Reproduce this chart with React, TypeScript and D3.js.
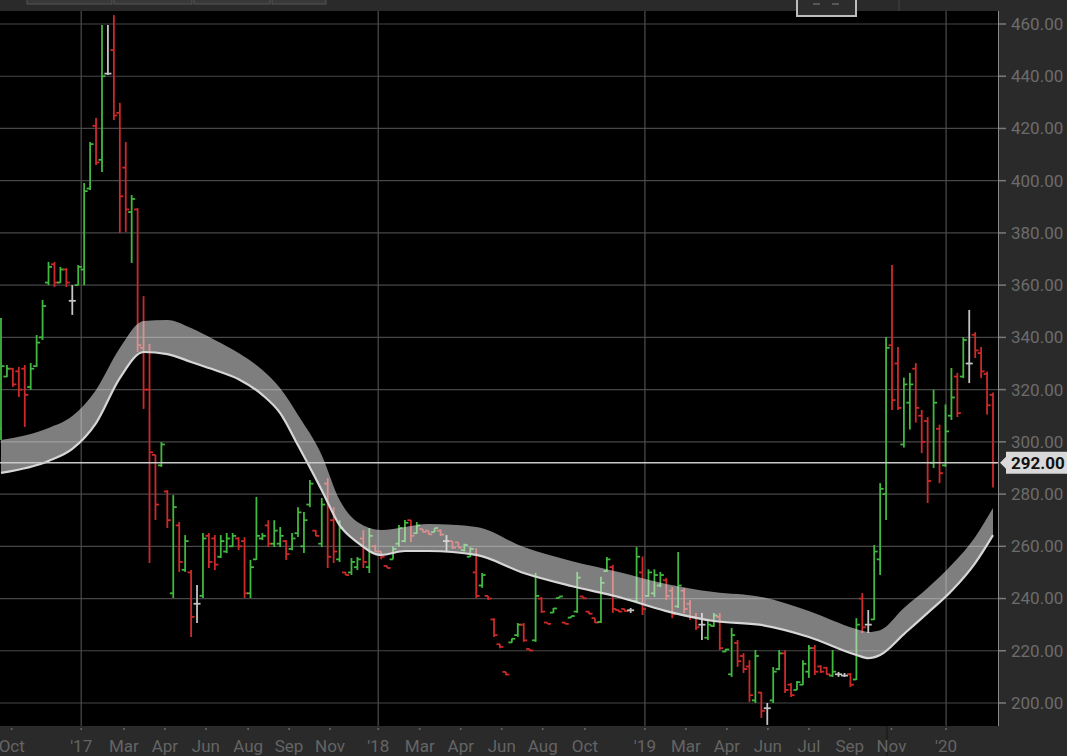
import * as d3 from 'd3';

// weekly OHLC from left to right
const opens = [
  305, 325, 328, 327, 328, 321, 329, 340, 361, 368, 361, 366, 354, 360, 366, 397, 421, 408, 441, 450,
  426, 405, 388, 389, 336, 320, 295, 291, 281, 242, 268, 251, 250, 238, 241, 264, 263, 256, 258, 260,
  263, 262, 242, 255, 263, 268, 261, 261, 262, 259, 265, 260, 276, 266, 261, 284, 270, 255, 250, 250,
  252, 263, 252, 260, 258, 252.5, 255, 261, 262, 270, 265, 266.6, 266, 265.5, 266, 262, 262, 261.5, 258.5, 256,
  250, 245, 241, 232, 222.5, 211.9, 223.2, 226, 230, 220.7, 224, 240, 230.8, 234.6, 240.2, 230.8, 232.7, 235, 240.8, 235,
  232.5, 231, 250.5, 252, 235.6, 236, 235.5, 239, 250, 241, 242, 245, 247, 243, 237, 243, 238, 233, 230, 225,
  229.5, 233, 219.7, 211, 223, 218, 214, 201, 204, 198, 201, 213, 219, 207, 205, 207, 212, 221, 214, 213.5,
  210.5, 211, 210.5, 211, 209, 240, 230, 232, 255, 280, 337, 330, 299, 315, 328, 310, 308, 292, 305, 291,
  310, 325, 325, 330, 341, 334, 326, 318,
];
const highs = [
  347.4, 329.4, 328.3, 328.7, 329.4, 330.2, 340.9, 354.3, 368.9, 368.9, 367, 366.5, 360, 367.7, 399.1, 414.8, 424, 459.6, 459.6, 463.4,
  429.8, 414.8, 394.5, 389.5, 355.8, 337.5, 295, 299.9, 281.5, 279.6, 269.3, 264.3, 250.9, 245.2, 265.1, 265.1, 264.3, 264.3, 265.1, 265.1,
  263.5, 263.5, 254.8, 278.9, 265.1, 270, 270, 267.4, 262.4, 265.1, 275, 273.1, 285.4, 266.2, 278.5, 286.2, 275, 270, 250.2, 255.5,
  255.9, 266.2, 267, 260.5, 258, 252.5, 260, 268.2, 270.1, 270.1, 269.3, 266.6, 266, 267, 266.5, 264.3, 262, 261.5, 261, 259.7,
  259.3, 249.8, 241, 232.5, 222.5, 211.9, 224.7, 230.6, 230.6, 220.7, 249.8, 240.6, 230.8, 236.4, 240.8, 230.8, 233.3, 250.2, 240.8, 235,
  232.5, 248.3, 255.9, 252.9, 235.6, 236, 236.4, 259.7, 256.1, 251.2, 251.2, 250.2, 247.9, 244.4, 257.8, 244, 239.4, 234.5, 234.5, 231.8,
  234.5, 234.5, 220.7, 228.7, 224.1, 219.1, 216.4, 220.3, 204.2, 200, 213.8, 220.3, 220.3, 207.7, 208.4, 216.4, 222.2, 222.2, 214.5, 213.8,
  220.3, 211.9, 211.5, 211.5, 232.5, 242.1, 235.6, 260.5, 284.2, 340.1, 367.7, 336.3, 324.6, 326.4, 330.2, 312.2, 309.5, 319.9, 306.6, 314.3,
  328.3, 326.4, 340.1, 350.5, 342, 336.3, 326.9, 318.9,
];
const lows = [
  300.7, 324.8, 321, 317.2, 305.7, 319.9, 328.7, 339, 360, 359.3, 360.8, 359.3, 348.6, 360, 360, 396.4, 406, 403.3, 440.5, 423.2,
  380, 380.4, 368.5, 334.4, 312.6, 253.6, 270.1, 290.4, 267, 240.2, 250.2, 250.2, 225.3, 230.6, 240.2, 251.7, 250.9, 255.5, 257.4, 259.7,
  258.6, 240.2, 240.2, 254.8, 262.4, 259.7, 259.7, 259.7, 254.8, 258.5, 263.6, 257.4, 275, 263.9, 259.7, 251.7, 253.6, 254, 249, 249,
  250.9, 251.7, 249.8, 257.8, 255, 251.7, 255, 259.7, 261.6, 261.6, 264.8, 265.5, 264.5, 265.5, 264, 257.8, 259, 259.5, 258, 255.9,
  240.2, 244.1, 239.5, 225.3, 221, 210.7, 223.1, 225.3, 223.4, 220, 223.4, 234.5, 230.3, 234.5, 240.2, 230.2, 232.7, 234.5, 240, 234,
  230.6, 230.6, 250.2, 234.5, 234.8, 235, 234.5, 238.3, 233.7, 240.6, 240.6, 244.4, 239.4, 232.5, 236.4, 234.5, 231.8, 228, 224.1, 224.1,
  229.1, 220.3, 219.6, 210, 213.8, 211.5, 200.4, 200, 194.3, 191.6, 200, 212.6, 203.8, 202.3, 205, 206.9, 209.6, 210.7, 211.5, 210.7,
  210, 210, 210, 206.1, 208.8, 226.8, 226.8, 231.8, 249, 270.1, 312.2, 312.2, 297.8, 304.7, 307.4, 295.7, 276.6, 290, 284.2, 290.4,
  308.4, 309.5, 324.4, 322.5, 332.1, 324.4, 310.5, 282.5,
];
const closes = [
  329, 328, 322, 320, 318, 328, 338, 352, 367, 361, 366, 361, 354, 367, 396, 414, 407, 440, 441, 425,
  394, 389, 393, 337, 320, 296, 276, 299, 270, 275, 254, 262, 233, 238, 263, 254, 253, 262, 263, 264,
  260, 242, 252, 264, 264, 261, 266, 264, 257, 263, 273, 270, 284, 264, 276, 256, 258, 267, 249, 254,
  255, 254, 264, 258, 256, 251.7, 259, 267, 269, 264, 268, 265.5, 264.6, 267, 264.5, 262, 259.5, 259.5, 260.5, 259,
  241, 249, 240, 226, 221.5, 210.9, 224.6, 230, 224, 220.1, 241, 235, 230.3, 236.2, 240.8, 230.3, 233.3, 248, 240.1, 234.2,
  230.8, 246, 255, 236, 235, 235.2, 235.5, 256, 236, 250, 249, 249, 241, 234, 245, 236, 233, 229, 230, 230,
  233.5, 221, 220.5, 226, 216, 213, 203, 218, 197, 198, 212, 219, 205, 203, 208, 215, 221, 212, 212, 211,
  212, 211, 210.5, 207, 230, 229, 230, 258, 282, 336, 316, 313, 322, 322, 313, 300, 285, 315, 288, 304,
  317, 311, 339, 330, 335, 327, 314, 292,
];

// moving-average ribbon, sampled at some of the weeks
const bandWeek = [0, 8, 12, 16, 20, 24, 28, 32, 36, 40, 44, 47, 50, 54, 57, 60, 64, 68, 72, 80, 88, 96, 104, 112, 120, 128, 136, 144, 146, 148, 152, 156, 160, 164, 167];
const bandUpper = [300.7, 305.3, 309.9, 319.9, 335.9, 346.3, 346.7, 343.6, 339.0, 334.0, 327.5, 320.5, 310.3, 294.9, 277.7, 269.3, 266.2, 267.4, 268.5, 267.4, 259.7, 254.4, 250.2, 245.6, 242.5, 240.6, 235.2, 228.3, 227.2, 227.9, 236.4, 244.0, 252.8, 263.6, 274.7];
const bandLower = [288.1, 292.7, 297.3, 307.2, 324.4, 334.4, 333.6, 330.6, 327.5, 324.0, 318.0, 311.0, 298.7, 281.5, 268.1, 261.5, 256.7, 258.2, 258.2, 256.7, 249.8, 244.8, 240.6, 235.2, 231.4, 229.9, 225.3, 218.4, 217.2, 218.4, 226.4, 234.5, 242.9, 253.6, 264.3];

const timeLabels = ['Oct', "'17", 'Mar', 'Apr', 'Jun', 'Aug', 'Sep', 'Nov', "'18", 'Mar', 'Apr', 'Jun', 'Aug', 'Oct', "'19", 'Mar', 'Apr', 'Jun', 'Jul', 'Sep', 'Nov', "'20"];
const timeLabelWeek = [1.8, 13.5, 20.7, 27.6, 34.5, 41.6, 48.5, 55.4, 63.5, 70.5, 77.4, 84.3, 91.2, 98.3, 108.4, 115.3, 122.2, 129.1, 136, 142.9, 149.9, 159.1];
const priceTicks = [200, 220, 240, 260, 280, 300, 320, 340, 360, 380, 400, 420, 440, 460];
const lastPrice = 292;

const W = 1067;
const H = 756;
const plotRight = 998;
const plotTop = 11;
const plotBottom = 726;

const GREEN = '#41b83f';
const RED = '#cc2a2a';
const GRAY = '#c4c4c4';
const FONT = 'Roboto, "Noto Sans", sans-serif';

export default function App() {
  const x = d3.scaleLinear().domain([0, opens.length - 1]).range([1, 993]);
  const y = d3.scaleLinear().domain([200, 460]).range([703, 24]);

  const bandPts = bandWeek.map((w, i) => ({ w, hi: bandUpper[i], lo: bandLower[i] }));
  const area = d3
    .area<{ w: number; hi: number; lo: number }>()
    .x((d) => x(d.w))
    .y0((d) => y(d.lo))
    .y1((d) => y(d.hi))
    .curve(d3.curveMonotoneX);
  const lowerLine = d3
    .line<{ w: number; hi: number; lo: number }>()
    .x((d) => x(d.w))
    .y((d) => y(d.lo))
    .curve(d3.curveMonotoneX);

  const py = y(lastPrice);

  return (
    <div style={{ position: 'absolute', left: 0, top: 0 }}>
      <svg width={W} height={H} style={{ display: 'block', background: '#000' }}>
        <defs>
          <clipPath id="plot">
            <rect x={0} y={plotTop} width={plotRight} height={plotBottom - plotTop} />
          </clipPath>
        </defs>

        {/* grid */}
        <g>
          {priceTicks.map((t) => (
            <line key={t} x1={0} x2={plotRight} y1={y(t)} y2={y(t)} stroke="#474747" strokeWidth={1.2} />
          ))}
          {timeLabels.map((l, i) =>
            l.startsWith("'") ? (
              <line key={l} x1={x(timeLabelWeek[i])} x2={x(timeLabelWeek[i])} y1={plotTop} y2={plotBottom} stroke="#4d4d4d" strokeWidth={1.2} />
            ) : null
          )}
        </g>

        {/* ohlc bars */}
        <g clipPath="url(#plot)" strokeWidth={1.8}>
          {opens.map((o, i) => {
            const c = closes[i];
            const col = c > o ? GREEN : c < o ? RED : GRAY;
            const cx = x(i);
            return (
              <g key={i} stroke={col}>
                <line x1={cx} x2={cx} y1={y(highs[i])} y2={y(lows[i])} />
                <line x1={cx - 3.5} x2={cx} y1={y(o)} y2={y(o)} />
                <line x1={cx} x2={cx + 3.5} y1={y(c)} y2={y(c)} />
              </g>
            );
          })}
        </g>

        {/* ribbon */}
        <g clipPath="url(#plot)">
          <path d={area(bandPts) ?? ''} fill="#e6e6e6" fillOpacity={0.55} />
          <path d={lowerLine(bandPts) ?? ''} fill="none" stroke="#d6d6d6" strokeWidth={2.2} />
          <line x1={0} x2={plotRight} y1={py} y2={py} stroke="#c9c9c9" strokeWidth={1.6} />
        </g>

        {/* top strip */}
        <rect x={0} y={0} width={W} height={plotTop} fill="#2a2a2a" />
        {[[27, 112], [114, 192], [194, 270], [272, 326]].map(([a, b]) => (
          <rect key={a} x={a} y={-2} width={b - a} height={6} fill="#383838" stroke="#555" strokeWidth={1} />
        ))}
        <line x1={899} x2={899} y1={0} y2={plotTop} stroke="#444" />
        <rect x={797} y={-2} width={59} height={18} fill="#2c2c2c" stroke="#bdbdbd" strokeWidth={2} />
        <line x1={813} x2={820} y1={4} y2={4} stroke="#666" strokeWidth={1.5} />
        <line x1={832} x2={839} y1={4} y2={4} stroke="#666" strokeWidth={1.5} />

        {/* right price axis */}
        <rect x={plotRight} y={plotTop} width={W - plotRight} height={H - plotTop} fill="#2a2a2a" />
        <line x1={plotRight + 0.5} x2={plotRight + 0.5} y1={plotTop} y2={plotBottom} stroke="#8a8a8a" strokeWidth={1} />
        {priceTicks.map((t) => (
          <g key={t}>
            <line x1={plotRight + 1} x2={plotRight + 8} y1={y(t)} y2={y(t)} stroke="#7a7a7a" strokeWidth={1.5} />
            <text x={1011} y={y(t)} dy="0.35em" fill="#6c6c6c" fontSize={17} fontFamily={FONT}>
              {t.toFixed(2)}
            </text>
          </g>
        ))}
        <path
          d={`M${plotRight + 2},${py} L${plotRight + 8},${py - 6} L${plotRight + 8},${py - 11} L${W},${py - 11} L${W},${py + 11} L${plotRight + 8},${py + 11} L${plotRight + 8},${py + 6} Z`}
          fill="#d9d9d9"
        />
        <text x={1011} y={py} dy="0.36em" fill="#111" fontSize={17} fontWeight="bold" fontFamily={FONT}>
          {lastPrice.toFixed(2)}
        </text>

        {/* bottom time axis */}
        <rect x={0} y={plotBottom} width={plotRight} height={H - plotBottom} fill="#2a2a2a" />
        <line x1={887} x2={887} y1={plotBottom} y2={H} stroke="#1c1c1c" strokeWidth={1.5} />
        {timeLabels.map((l, i) => (
          <g key={i}>
            <circle cx={x(timeLabelWeek[i])} cy={plotBottom + 3} r={1} fill="#6a6a6a" />
            <text x={x(timeLabelWeek[i])} y={752} textAnchor="middle" fill="#646464" fontSize={17} fontFamily={FONT}>
              {l}
            </text>
          </g>
        ))}
      </svg>
    </div>
  );
}
